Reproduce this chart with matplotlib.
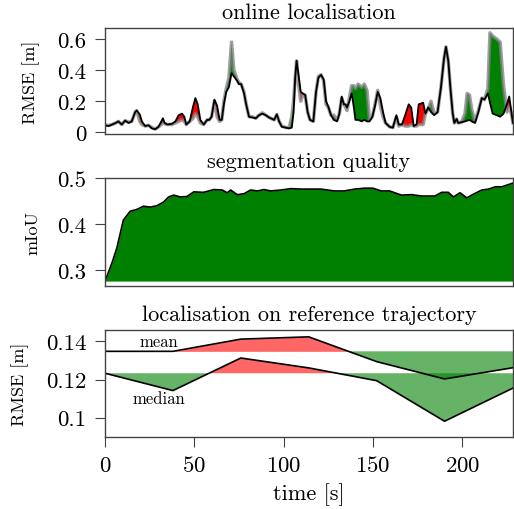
import matplotlib
matplotlib.use("Agg")
import matplotlib.pyplot as plt
from matplotlib.ticker import FormatStrFormatter
import numpy as np

plt.rcParams['font.family'] = 'serif'
plt.rcParams['font.serif'] = ['cmr10']
plt.rcParams['mathtext.fontset'] = 'cm'
plt.rcParams['axes.formatter.use_mathtext'] = True
plt.rcParams['axes.unicode_minus'] = False

# online localisation: time [s], RMSE of new method (black) and baseline (gray)
t_online = [0, 2, 4, 6, 7.5, 9.4, 11.3, 13.2, 15, 16.9, 17.8, 19.5, 20.7, 22.5, 24.4,
            26.3, 28.2, 30, 31.6, 32.5, 33.5, 35, 37.6, 39.5, 41.3, 43.2, 44.5, 45.6,
            47.5, 49.4, 50.7, 52, 53.5, 55.4, 57.3, 58.5, 59.8, 61.4, 62.9, 64.3, 65.5,
            66.7, 68, 69.5, 71, 72.3, 74.2, 75.1, 76.4, 78, 79.2, 80.8, 82.7, 84.6,
            86.4, 88.3, 90.2, 92.1, 94, 94.9, 96.4, 97.7, 99.2, 101.5, 103.3, 104.8,
            105.8, 106.7, 107.5, 108.7, 109.8, 111, 112.3, 113.7, 115, 116.9, 118.4,
            119.7, 121.2, 122.7, 124, 125.3, 126.8, 128.3, 130.2, 131.5, 132.8, 134,
            135, 135.8, 137.1, 138.4, 139.5, 140.5, 142, 144, 145.5, 147, 148.4, 150,
            151.5, 153, 154.5, 156, 157.4, 159.7, 161.5, 163.5, 164.8, 166.6, 168.4,
            170.4, 171.8, 173.2, 174.8, 176, 178.5, 179.8, 181.3, 182.9, 184.7, 186.6,
            188.5, 190.2, 191.3, 192.6, 193.9, 195.1, 196, 197.3, 198.2, 200, 202,
            203.2, 204.5, 205.7, 207.6, 209.5, 211.4, 212.9, 214.8, 216, 217.5, 219.8,
            221.7, 223.6, 225.5, 226.8, 228, 228.9]
rmse_new = [0.045, 0.04, 0.05, 0.06, 0.07, 0.05, 0.075, 0.06, 0.07, 0.13, 0.14, 0.115,
            0.07, 0.04, 0.045, 0.025, 0.02, 0.035, 0.07, 0.09, 0.06, 0.05, 0.055, 0.07,
            0.11, 0.12, 0.1, 0.05, 0.07, 0.165, 0.22, 0.18, 0.08, 0.05, 0.08, 0.08, 0.1,
            0.21, 0.17, 0.08, 0.08, 0.18, 0.26, 0.29, 0.38, 0.36, 0.33, 0.31, 0.31, 0.25,
            0.18, 0.1, 0.095, 0.09, 0.11, 0.12, 0.11, 0.095, 0.085, 0.08, 0.115, 0.07,
            0.035, 0.03, 0.025, 0.03, 0.13, 0.35, 0.46, 0.36, 0.26, 0.25, 0.24, 0.13,
            0.08, 0.07, 0.26, 0.35, 0.37, 0.34, 0.2, 0.165, 0.11, 0.08, 0.07, 0.12, 0.23,
            0.18, 0.18, 0.16, 0.2, 0.25, 0.17, 0.08, 0.08, 0.07, 0.08, 0.07, 0.07, 0.1,
            0.17, 0.26, 0.22, 0.13, 0.06, 0.035, 0.03, 0.11, 0.05, 0.05, 0.11, 0.18, 0.16,
            0.04, 0.05, 0.18, 0.19, 0.12, 0.16, 0.13, 0.11, 0.13, 0.29, 0.475, 0.55, 0.46,
            0.27, 0.12, 0.06, 0.085, 0.06, 0.065, 0.07, 0.075, 0.08, 0.07, 0.06, 0.13,
            0.22, 0.21, 0.25, 0.19, 0.12, 0.11, 0.1, 0.12, 0.18, 0.23, 0.13, 0.06]
rmse_base = [0.045, 0.045, 0.05, 0.06, 0.07, 0.05, 0.075, 0.065, 0.07, 0.13, 0.14, 0.07,
             0.05, 0.04, 0.045, 0.03, 0.02, 0.035, 0.05, 0.06, 0.055, 0.05, 0.05, 0.06,
             0.07, 0.08, 0.07, 0.05, 0.07, 0.09, 0.12, 0.1, 0.06, 0.05, 0.08, 0.08, 0.1,
             0.2, 0.1, 0.07, 0.08, 0.2, 0.28, 0.35, 0.58, 0.4, 0.34, 0.32, 0.31, 0.26,
             0.18, 0.1, 0.1, 0.09, 0.11, 0.125, 0.11, 0.095, 0.085, 0.08, 0.115, 0.07,
             0.04, 0.03, 0.03, 0.1, 0.2, 0.35, 0.46, 0.3, 0.2, 0.24, 0.24, 0.13, 0.08,
             0.07, 0.26, 0.36, 0.37, 0.33, 0.18, 0.16, 0.11, 0.11, 0.08, 0.12, 0.22, 0.18,
             0.16, 0.14, 0.22, 0.3, 0.3, 0.28, 0.31, 0.29, 0.31, 0.27, 0.08, 0.1, 0.18,
             0.27, 0.17, 0.1, 0.06, 0.035, 0.03, 0.1, 0.04, 0.05, 0.04, 0.04, 0.05, 0.04,
             0.04, 0.05, 0.05, 0.12, 0.15, 0.2, 0.12, 0.13, 0.29, 0.475, 0.55, 0.46, 0.27,
             0.12, 0.06, 0.085, 0.06, 0.065, 0.12, 0.25, 0.24, 0.15, 0.07, 0.14, 0.22,
             0.21, 0.28, 0.64, 0.62, 0.6, 0.58, 0.3, 0.13, 0.17, 0.12, 0.06]

# segmentation quality
t_seg = [0, 3.8, 6.6, 10.3, 14.1, 17.8, 21.6, 25.4, 29.1, 32.9, 35.7, 38.5, 42.3, 46.0,
         49.8, 55.4, 61.1, 65.8, 68.6, 70.5, 74.2, 78, 81.7, 85.5, 89.2, 93, 98.6,
         104.3, 109.9, 115.5, 121.2, 128.7, 134.3, 140, 145.6, 150.3, 155, 159.7,
         166.3, 172, 177.6, 185.1, 188.9, 192.6, 195.5, 199.2, 203, 206.7, 211.4,
         215.2, 219, 222.7, 228.9]
miou = [0.277, 0.315, 0.348, 0.409, 0.428, 0.432, 0.439, 0.437, 0.44, 0.448, 0.459,
        0.463, 0.459, 0.46, 0.47, 0.469, 0.475, 0.474, 0.468, 0.474, 0.464, 0.466,
        0.474, 0.472, 0.475, 0.472, 0.474, 0.477, 0.476, 0.476, 0.476, 0.472, 0.472,
        0.476, 0.478, 0.478, 0.472, 0.472, 0.463, 0.464, 0.461, 0.461, 0.469, 0.469,
        0.459, 0.468, 0.457, 0.465, 0.474, 0.476, 0.481, 0.481, 0.489]

# localisation on reference trajectory
t_ref = [0, 38, 76, 114, 152, 190, 228.3]
rmse_mean = [0.1348, 0.1348, 0.1412, 0.1424, 0.1294, 0.1203, 0.1262]
rmse_median = [0.1233, 0.1142, 0.1313, 0.1261, 0.1194, 0.0981, 0.1155]

fig = plt.figure(figsize=(5.14, 5.10), dpi=100)
ax1 = fig.add_axes([0.2043, 0.7353, 0.7937, 0.2078])
ax2 = fig.add_axes([0.2043, 0.4373, 0.7937, 0.2117])
ax3 = fig.add_axes([0.2043, 0.1418, 0.7937, 0.2092])

tick_fs = 16.5
title_fs = 16
label_fs = 13

# top
x = np.array(t_online)
a = np.array(rmse_new)
b = np.array(rmse_base)
ax1.fill_between(x, a, b, where=b >= a, interpolate=True, color='green', lw=0)
ax1.fill_between(x, a, b, where=a >= b, interpolate=True, color='red', lw=0)
ax1.plot(x, b, color='grey', lw=2.5, alpha=0.75)
ax1.plot(x, a, color='black', lw=1.3)
ax1.set_xlim(0, x[-1])
ax1.set_yticks([0, 0.2, 0.4, 0.6])
ax1.set_ylabel('RMSE [m]', fontsize=label_fs, labelpad=12)
ax1.set_title('online localisation', fontsize=title_fs, pad=7)

# middle
ax2.fill_between(t_seg, min(miou), miou, color='green', lw=0)
ax2.plot(t_seg, miou, color='black', lw=1.2)
ax2.set_xlim(0, t_seg[-1])
ax2.set_yticks([0.3, 0.4, 0.5])
ax2.set_ylabel('mIoU', fontsize=label_fs, labelpad=12)
ax2.set_title('segmentation quality', fontsize=title_fs, pad=8)

# bottom
xr = np.array(t_ref)
for vals in (rmse_mean, rmse_median):
    v = np.array(vals)
    ref = v[0]
    ax3.fill_between(xr, ref, v, where=v >= ref, interpolate=True, color='red', alpha=0.6, lw=0)
    ax3.fill_between(xr, ref, v, where=v <= ref, interpolate=True, color='green', alpha=0.6, lw=0)
    ax3.plot(xr, v, color='black', lw=1.2)
ax3.text(30, 0.1403, 'mean', fontsize=12, ha='center', va='center')
ax3.text(30, 0.1099, 'median', fontsize=12, ha='center', va='center')
ax3.set_xlim(0, xr[-1])
ax3.set_ylim(0.09, 0.146)
ax3.set_yticks([0.1, 0.12, 0.14])
ax3.set_xticks([0, 50, 100, 150, 200])
ax3.set_ylabel('RMSE [m]', fontsize=label_fs, labelpad=12)
ax3.set_xlabel('time [s]', fontsize=16, labelpad=5)
ax3.set_title('localisation on reference trajectory', fontsize=title_fs, pad=7)

for ax in (ax1, ax2, ax3):
    ax.yaxis.set_major_formatter(FormatStrFormatter('%g'))
    ax.tick_params(labelsize=tick_fs, length=7.5, width=0.8, color='#444444', pad=6)
    for s in ax.spines.values():
        s.set_color('#444444')
        s.set_linewidth(1.0)
for ax in (ax1, ax2):
    ax.tick_params(bottom=False, labelbottom=False)

fig.savefig('out.png', dpi=100)
